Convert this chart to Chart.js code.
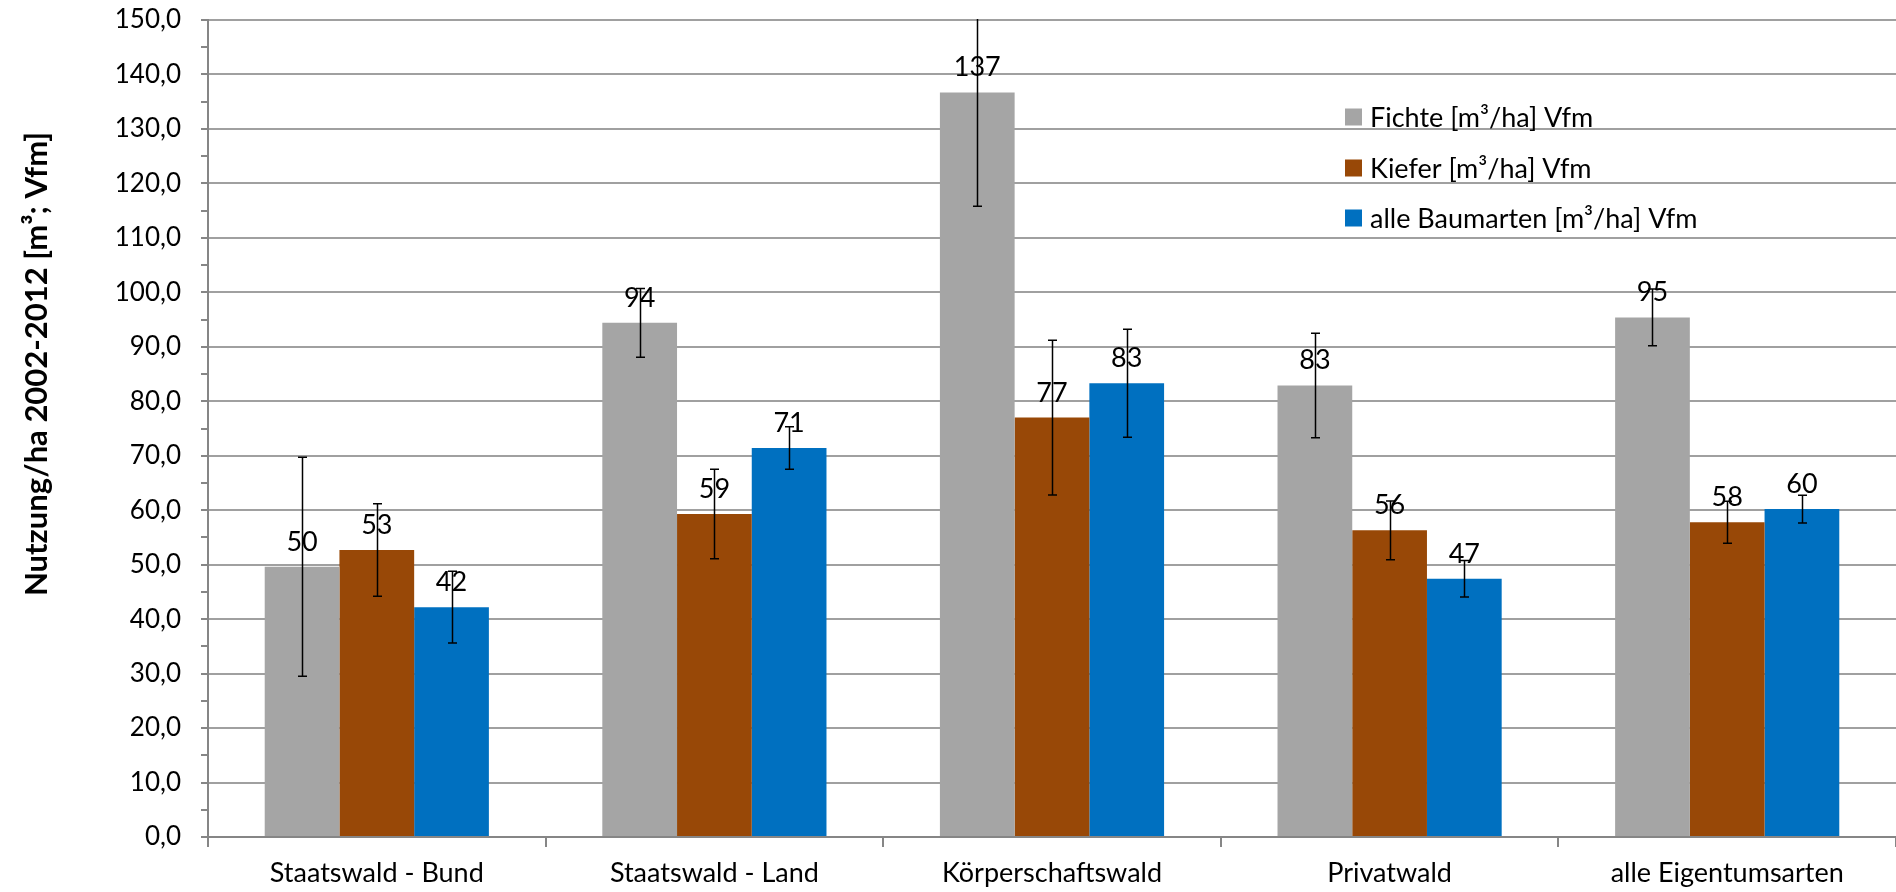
<!DOCTYPE html>
<html>
<head>
<meta charset="utf-8">
<script src="https://cdn.jsdelivr.net/npm/chart.js@4.4.1/dist/chart.umd.min.js"></script>
<style>
  html, body { margin: 0; padding: 0; background: #ffffff; }
  #wrap { width: 1896px; height: 892px; position: relative; }
</style>
</head>
<body>
<div id="wrap"><canvas id="c"></canvas></div>
<script>
const categories = ['Staatswald - Bund', 'Staatswald - Land', 'Körperschaftswald', 'Privatwald', 'alle Eigentumsarten'];
const seriesNames = ['Fichte [m³/ha] Vfm', 'Kiefer [m³/ha] Vfm', 'alle Baumarten [m³/ha] Vfm'];
const fichte = [49.6, 94.4, 136.7, 82.9, 95.4];
const kiefer = [52.7, 59.3, 77.0, 56.3, 57.8];
const alleBaumarten = [42.2, 71.4, 83.3, 47.4, 60.2];
const fichteErr = [20.1, 6.3, 20.9, 9.6, 5.2];
const kieferErr = [8.5, 8.2, 14.2, 5.4, 3.85];
const alleBaumartenErr = [6.6, 3.9, 9.9, 3.35, 2.55];
const yAxisTitle = 'Nutzung/ha 2002-2012 [m³; Vfm]';
const yMin = 0, yMax = 150, yMajorStep = 10, yMinorStep = 5;

const colors = ['#A5A5A5', '#984807', '#0070C0'];
const errors = [fichteErr, kieferErr, alleBaumartenErr];
const FONT = 'Lato, "Open Sans", sans-serif';

const errorBarPlugin = {
  id: 'errorBars',
  afterDatasetsDraw(chart) {
    const ctx = chart.ctx;
    const y = chart.scales.y;
    const area = chart.chartArea;
    ctx.save();
    ctx.fillStyle = '#000000';
    ctx.font = '27px ' + FONT;
    ctx.textAlign = 'center';
    ctx.textBaseline = 'alphabetic';
    chart.data.datasets.forEach((ds, i) => {
      const meta = chart.getDatasetMeta(i);
      meta.data.forEach((bar, j) => {
        const v = ds.data[j];
        ctx.fillText(String(Math.round(v)), bar.x, y.getPixelForValue(v) - 16);
      });
    });
    ctx.restore();
    ctx.save();
    ctx.beginPath();
    ctx.rect(area.left, area.top - 1, area.right - area.left, area.bottom - area.top + 1);
    ctx.clip();
    ctx.strokeStyle = '#000000';
    ctx.lineWidth = 1.5;
    chart.data.datasets.forEach((ds, i) => {
      const meta = chart.getDatasetMeta(i);
      meta.data.forEach((bar, j) => {
        const v = ds.data[j];
        const e = errors[i][j];
        const yt = y.getPixelForValue(v + e);
        const yb = y.getPixelForValue(v - e);
        const x = Math.round(bar.x) + 0.5;
        ctx.beginPath();
        ctx.moveTo(x, yt); ctx.lineTo(x, yb);
        ctx.moveTo(x - 4.5, yt); ctx.lineTo(x + 4.5, yt);
        ctx.moveTo(x - 4.5, yb); ctx.lineTo(x + 4.5, yb);
        ctx.stroke();
      });
    });
    ctx.restore();
  }
};

const customLegendPlugin = {
  id: 'customLegend',
  afterDraw(chart) {
    const ctx = chart.ctx;
    const rows = [117, 168, 218];
    ctx.save();
    ctx.font = '27px ' + FONT;
    ctx.textBaseline = 'middle';
    ctx.textAlign = 'left';
    chart.data.datasets.forEach((ds, i) => {
      const cy = rows[i];
      ctx.fillStyle = ds.backgroundColor;
      ctx.fillRect(1345, cy - 8.5, 17, 17);
      ctx.fillStyle = '#000000';
      ctx.fillText(ds.label, 1370, cy + 1);
    });
    ctx.restore();
  }
};

const yTitlePlugin = {
  id: 'yTitle',
  afterDraw(chart) {
    const ctx = chart.ctx;
    ctx.save();
    ctx.translate(37, 364);
    ctx.rotate(-Math.PI / 2);
    ctx.font = 'bold 31px ' + FONT;
    ctx.fillStyle = '#000000';
    ctx.textAlign = 'center';
    ctx.textBaseline = 'middle';
    ctx.fillText(yAxisTitle, 0, 0);
    ctx.restore();
  }
};

const seriesData = [fichte, kiefer, alleBaumarten];

new Chart(document.getElementById('c'), {
  type: 'bar',
  data: {
    labels: categories,
    datasets: seriesNames.map((name, i) => ({
      label: name,
      data: seriesData[i],
      backgroundColor: colors[i],
      borderWidth: 0,
      categoryPercentage: 0.664,
      barPercentage: 1.0
    }))
  },
  options: {
    responsive: true,
    maintainAspectRatio: false,
    animation: false,
    devicePixelRatio: 1,
    layout: { padding: { top: 20, left: 0, right: 0, bottom: 0 } },
    plugins: {
      legend: { display: false },
      tooltip: { enabled: false },
      title: { display: false }
    },
    scales: {
      x: {
        offset: true,
        afterFit(scale) { scale.height = 55; },
        grid: {
          offset: true,
          drawOnChartArea: false,
          drawTicks: true,
          tickLength: 10,
          tickColor: '#868686',
          lineWidth: 2
        },
        border: { color: '#868686', width: 2 },
        ticks: {
          autoSkip: false,
          maxRotation: 0,
          minRotation: 0,
          color: '#000000',
          padding: 10,
          font: { family: FONT, size: 27 }
        }
      },
      y: {
        min: yMin,
        max: yMax,
        afterFit(scale) {
          scale.width = 208;
          scale.paddingTop = 10;
          scale.paddingBottom = 10;
        },
        grid: {
          color: (c) => (c.tick && c.tick.value % yMajorStep === 0) ? '#A0A0A0' : 'rgba(0,0,0,0)',
          lineWidth: 2,
          drawTicks: true,
          tickLength: 7,
          tickColor: '#868686'
        },
        border: { color: '#868686', width: 2 },
        ticks: {
          stepSize: yMinorStep,
          autoSkip: false,
          color: '#000000',
          padding: 20,
          font: { family: FONT, size: 26 },
          callback: (v) => (v % yMajorStep === 0) ? v.toFixed(1).replace('.', ',') : ''
        }
      }
    }
  },
  plugins: [errorBarPlugin, customLegendPlugin, yTitlePlugin]
});
</script>
</body>
</html>
